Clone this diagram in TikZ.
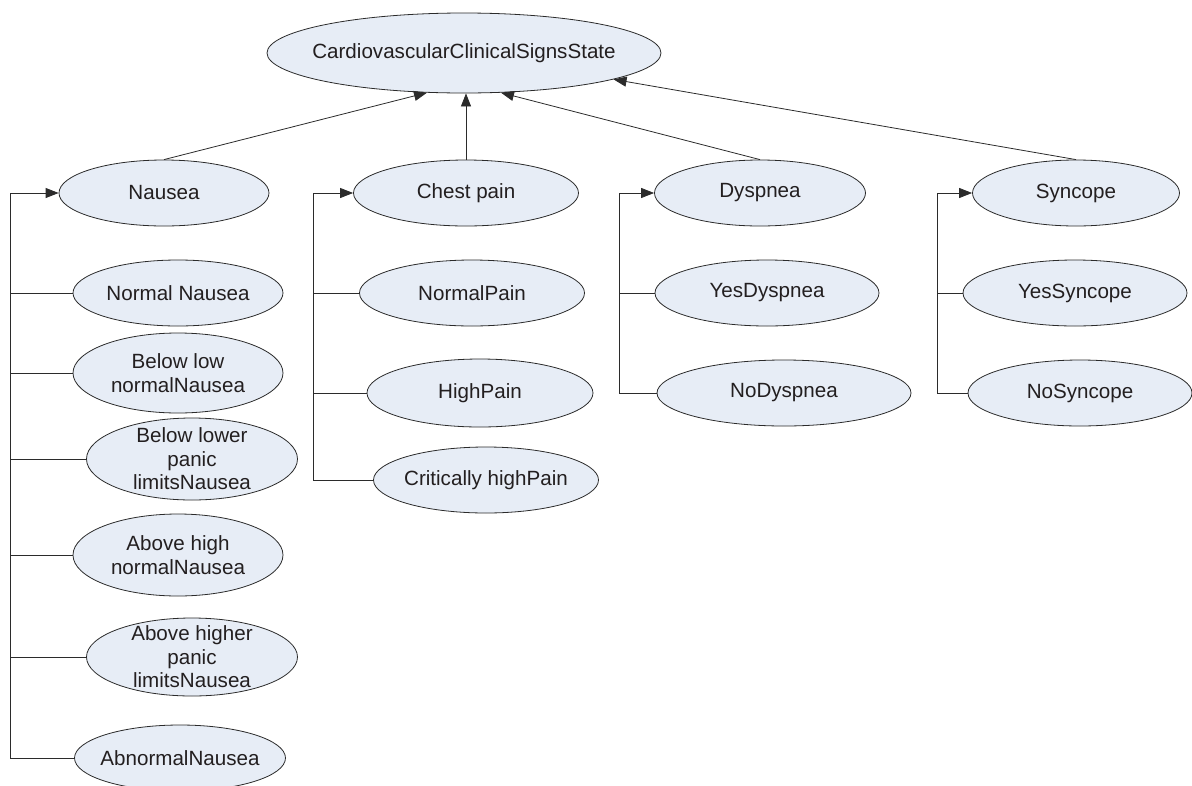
\documentclass[tikz,border=0pt]{standalone}
\usepackage{fontspec}
\setmainfont{Liberation Sans}
\usetikzlibrary{arrows.meta,shapes.geometric}

\definecolor{ovalfill}{HTML}{E7EDF6}
\definecolor{ovalline}{HTML}{2B2B2B}
\definecolor{txtc}{HTML}{231F20}

\begin{document}
\begin{tikzpicture}[x=1pt,y=-1pt,>={Triangle[length=13pt,width=10pt]},
 line width=0.8pt,draw=ovalline,
 st/.style={ellipse,draw=ovalline,fill=ovalfill,inner sep=0pt,minimum width=211pt,minimum height=66pt},
 txt/.style={align=center,text=txtc,inner sep=0pt,font=\fontsize{20.6}{23.5}\selectfont}]
\useasboundingbox (0,0) rectangle (1192,785);
% root
\node[st,minimum width=394pt,minimum height=80pt,label={[txt]center:CardiovascularClinicalSignsState}] (root) at (464,53) {};
% Nausea group
\node[st,minimum width=210pt,label={[txt]center:Nausea}] (nau) at (164,193) {};
\node[st,minimum width=210pt,label={[txt]center:Normal Nausea}] (nau1) at (178,293) {};
\node[st,minimum width=210pt,minimum height=80pt,label={[txt]center:Below low\\normalNausea}] (nau2) at (178,373) {};
\node[st,minimum height=82pt,label={[txt]center:Below lower\\panic\\limitsNausea}] (nau3) at (192,459) {};
\node[st,minimum width=210pt,minimum height=82pt,label={[txt]center:Above high\\normalNausea}] (nau4) at (178,555) {};
\node[st,minimum height=78pt,label={[txt]center:Above higher\\panic\\limitsNausea}] (nau5) at (192,657) {};
\node[st,label={[txt]center:AbnormalNausea}] (nau6) at (180,758) {};
% Chest pain group
\node[st,minimum width=225pt,label={[txt]center:Chest pain}] (chp) at (466,193) {};
\node[st,minimum width=225pt,label={[txt]center:NormalPain}] (chp1) at (472,293) {};
\node[st,minimum width=226pt,minimum height=68pt,label={[txt]center:HighPain}] (chp2) at (480,393) {};
\node[st,minimum width=225pt,label={[txt]center:Critically highPain}] (chp3) at (486,480) {};
% Dyspnea group
\node[st,label={[txt]center:Dyspnea}] (dys) at (760,193) {};
\node[st,minimum width=224pt,label={[txt]center:YesDyspnea}] (dys1) at (767,293) {};
\node[st,minimum width=254pt,label={[txt]center:NoDyspnea}] (dys2) at (784,393) {};
% Syncope group
\node[st,minimum width=207pt,label={[txt]center:Syncope}] (syn) at (1076,193) {};
\node[st,minimum width=224pt,label={[txt]center:YesSyncope}] (syn1) at (1075,293) {};
\node[st,minimum width=224pt,label={[txt]center:NoSyncope}] (syn2) at (1080,393) {};
% bus lines
\coordinate (nbus) at (10,0);
\coordinate (cbus) at (313,0);
\coordinate (dbus) at (619,0);
\coordinate (sbus) at (937,0);
\draw[->] (nau.north) -- (root.227);
\draw[->] (chp.north) -- (chp.north |- root.south);
\draw[->] (dys.north) -- (root.313);
\draw[->] (syn.north) -- (root.350);
\draw[->] (nau6.west) -- (nau6.west -| nbus) |- (nau.west);
\foreach \n in {nau1,nau2,nau3,nau4,nau5} \draw (\n.west) -- (\n.west -| nbus);
\draw[->] (chp3.west) -- (chp3.west -| cbus) |- (chp.west);
\foreach \n in {chp1,chp2} \draw (\n.west) -- (\n.west -| cbus);
\draw[->] (dys2.west) -- (dys2.west -| dbus) |- (dys.west);
\draw (dys1.west) -- (dys1.west -| dbus);
\draw[->] (syn2.west) -- (syn2.west -| sbus) |- (syn.west);
\draw (syn1.west) -- (syn1.west -| sbus);
\end{tikzpicture}
\end{document}
